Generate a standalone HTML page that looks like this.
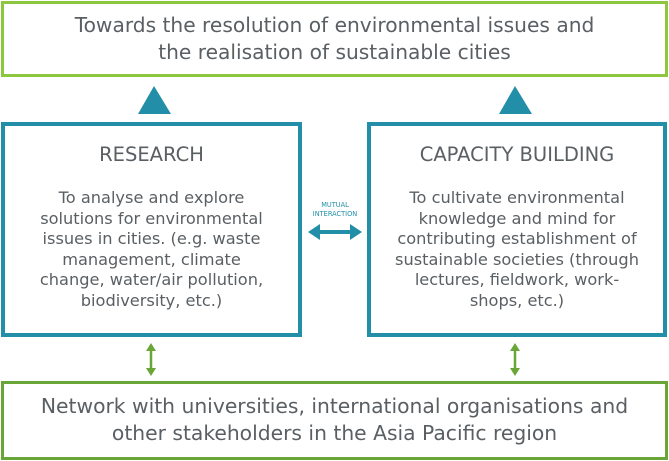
<!DOCTYPE html>
<html><head><style>
body{margin:0;width:669px;height:461px;position:relative;background:#fff;font-family:"DejaVu Sans","Liberation Sans",sans-serif;color:#5a5f63;overflow:hidden}
.b{position:absolute;box-sizing:border-box}
.t{position:absolute;left:0;right:0;text-align:center;white-space:nowrap}
</style></head><body>
<div class="b" style="left:1px;top:1px;width:667px;height:76px;border:3px solid #8dc63f"></div>
<div class="t" style="top:12px;font-size:20.2px;line-height:27px">Towards the resolution of environmental issues and<br>the realisation of sustainable cities</div>
<svg class="b" style="left:0;top:0" width="669" height="461">
<polygon points="138,114 154,86 171,114" fill="#228ea8"/>
<polygon points="499,114 515,86 532,114" fill="#228ea8"/>
<line x1="318" y1="232" x2="352" y2="232" stroke="#228ea8" stroke-width="4"/>
<polygon points="308,232 320,224 320,240" fill="#228ea8"/>
<polygon points="362,232 350,224 350,240" fill="#228ea8"/>
<line x1="151" y1="350" x2="151" y2="370" stroke="#6aa538" stroke-width="2.5"/>
<polygon points="151,343 146,351 156,351" fill="#6aa538"/>
<polygon points="151,376 146,368 156,368" fill="#6aa538"/>
<line x1="515" y1="350" x2="515" y2="370" stroke="#6aa538" stroke-width="2.5"/>
<polygon points="515,343 510,351 520,351" fill="#6aa538"/>
<polygon points="515,376 510,368 520,368" fill="#6aa538"/>
</svg>
<div class="t" style="left:300px;width:70px;right:auto;top:201px;font-size:6.6px;line-height:9px;color:#228ea8">MUTUAL<br>INTERACTION</div>
<div class="b" style="left:1px;top:122px;width:301px;height:215px;border:4px solid #228ea8"></div>
<div class="b" style="left:367px;top:122px;width:300px;height:215px;border:4px solid #228ea8"></div>
<div class="t" style="left:1px;width:301px;top:142px;font-size:19.5px;line-height:25px">RESEARCH</div>
<div class="t" style="left:1px;width:301px;top:188px;font-size:16.2px;line-height:20.6px">To analyse and explore<br>solutions for environmental<br>issues in cities. (e.g. waste<br>management, climate<br>change, water/air pollution,<br>biodiversity, etc.)</div>
<div class="t" style="left:367px;width:300px;top:142px;font-size:19.5px;line-height:25px">CAPACITY BUILDING</div>
<div class="t" style="left:367px;width:300px;top:188px;font-size:16.2px;line-height:20.6px">To cultivate environmental<br>knowledge and mind for<br>contributing establishment of<br>sustainable societies (through<br>lectures, fieldwork, work-<br>shops, etc.)</div>
<div class="b" style="left:1px;top:381px;width:667px;height:79px;border:3px solid #6aa538"></div>
<div class="t" style="top:393px;font-size:20.3px;line-height:27px">Network with universities, international organisations and<br>other stakeholders in the Asia Pacific region</div>
</body></html>
